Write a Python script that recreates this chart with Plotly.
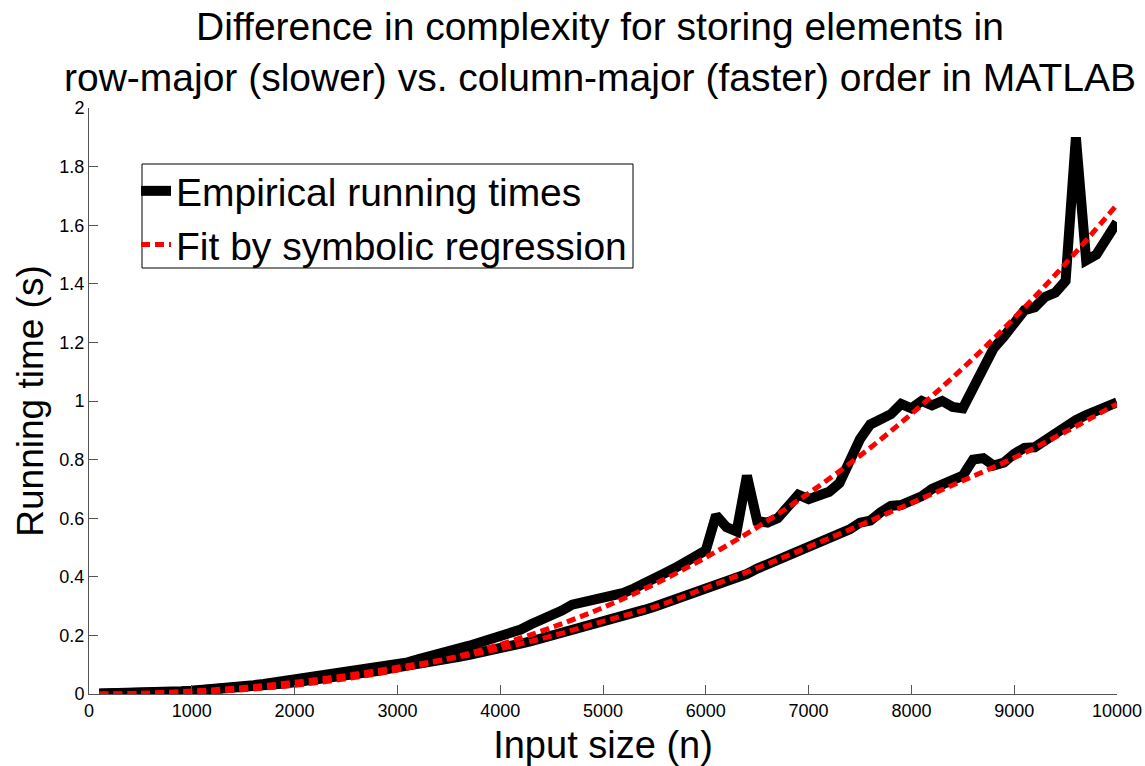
import plotly.graph_objects as go

# ---------------- data ----------------
n_emp = list(range(100, 10001, 100))

row_major = [
    0.002, 0.002, 0.003, 0.003, 0.004, 0.005, 0.006, 0.007, 0.009, 0.011,
    0.013, 0.016, 0.019, 0.023, 0.027, 0.030, 0.034, 0.039, 0.044, 0.048,
    0.052, 0.056, 0.060, 0.068, 0.072, 0.077, 0.085, 0.092, 0.095, 0.100,
    0.108, 0.118, 0.126, 0.133, 0.141, 0.152, 0.165, 0.176, 0.186, 0.195,
    0.205, 0.220, 0.238, 0.252, 0.262, 0.285, 0.305, 0.312, 0.318, 0.328,
    0.335, 0.345, 0.360, 0.380, 0.398, 0.412, 0.430, 0.450, 0.470, 0.490,
    0.610, 0.570, 0.555, 0.745, 0.590, 0.585, 0.600, 0.635, 0.680, 0.665,
    0.680, 0.690, 0.720, 0.790, 0.870, 0.920, 0.940, 0.955, 0.990, 0.975,
    1.000, 0.985, 1.000, 0.980, 0.975, 1.040, 1.110, 1.180, 1.220, 1.265,
    1.310, 1.320, 1.355, 1.370, 1.410, 1.900, 1.480, 1.500, 1.560, 1.610,
]

col_major = [
    0.001, 0.001, 0.001, 0.002, 0.003, 0.004, 0.005, 0.006, 0.008, 0.010,
    0.012, 0.014, 0.017, 0.019, 0.022, 0.026, 0.029, 0.032, 0.036, 0.040,
    0.044, 0.048, 0.052, 0.058, 0.063, 0.067, 0.073, 0.078, 0.085, 0.090,
    0.096, 0.101, 0.107, 0.114, 0.120, 0.127, 0.134, 0.140, 0.148, 0.155,
    0.164, 0.172, 0.180, 0.189, 0.198, 0.207, 0.218, 0.228, 0.236, 0.246,
    0.256, 0.266, 0.276, 0.287, 0.298, 0.310, 0.322, 0.334, 0.348, 0.362,
    0.372, 0.385, 0.398, 0.410, 0.428, 0.442, 0.455, 0.470, 0.486, 0.500,
    0.515, 0.530, 0.545, 0.562, 0.585, 0.592, 0.620, 0.642, 0.645, 0.660,
    0.675, 0.700, 0.712, 0.730, 0.745, 0.800, 0.805, 0.780, 0.790, 0.820,
    0.840, 0.842, 0.865, 0.895, 0.910, 0.935, 0.952, 0.968, 0.980, 0.995,
]

n_fit = [100, 500, 1000, 1500, 2000, 2500, 3000, 3500, 4000, 4500, 5000,
         5500, 6000, 6500, 7000, 7500, 8000, 8500, 9000, 9500, 10000]
fit_row = [0.0000, 0.0009, 0.0053, 0.0146, 0.030, 0.052, 0.082, 0.121, 0.169,
           0.227, 0.295, 0.375, 0.466, 0.569, 0.685, 0.813, 0.956, 1.112,
           1.283, 1.469, 1.670]
fit_col = [0.0001, 0.0025, 0.010, 0.022, 0.040, 0.063, 0.091, 0.120, 0.155,
           0.198, 0.248, 0.297, 0.362, 0.430, 0.502, 0.576, 0.652, 0.728,
           0.806, 0.895, 0.990]

x_ticks = [0, 1000, 2000, 3000, 4000, 5000, 6000, 7000, 8000, 9000, 10000]
x_tick_text = ["0", "1000", "2000", "3000", "4000", "5000", "6000", "7000",
               "8000", "9000", "10000"]
y_ticks = [0, 0.2, 0.4, 0.6, 0.8, 1.0, 1.2, 1.4, 1.6, 1.8, 2.0]
y_tick_text = ["0", "0.2", "0.4", "0.6", "0.8", "1", "1.2", "1.4", "1.6", "1.8", "2"]

title_text = ("Difference in complexity for storing elements in<br>"
              "row-major (slower) vs. column-major (faster) order in MATLAB")

FONT = "Liberation Sans, Arial, Helvetica, sans-serif"

W, H = 1145, 766
ML, MR, MT, MB = 89, 28, 108, 72
PW, PH = W - ML - MR, H - MT - MB


def px_x(fx):  # figure pixel -> paper x
    return (fx - ML) / PW


def px_y(fy):  # figure pixel -> paper y
    return (H - MB - fy) / PH


# ---------------- figure ----------------
fig = go.Figure()
fig.add_trace(go.Scatter(x=n_emp, y=row_major, mode="lines",
                         name="Empirical running times",
                         line=dict(color="black", width=10),
                         legendgroup="emp"))
fig.add_trace(go.Scatter(x=n_emp, y=col_major, mode="lines",
                         name="Empirical running times", showlegend=False,
                         line=dict(color="black", width=10),
                         legendgroup="emp"))
fig.add_trace(go.Scatter(x=n_fit, y=fit_row, mode="lines",
                         name="Fit by symbolic regression",
                         line=dict(color="#ff0000", width=5, dash="9px,5px",
                                   shape="spline"),
                         legendgroup="fit"))
fig.add_trace(go.Scatter(x=n_fit, y=fit_col, mode="lines",
                         name="Fit by symbolic regression", showlegend=False,
                         line=dict(color="#ff0000", width=5, dash="9px,5px",
                                   shape="spline"),
                         legendgroup="fit"))

axis_common = dict(
    showgrid=False, zeroline=False, showline=True, linecolor="#555555",
    linewidth=1, ticks="inside", ticklen=9, tickwidth=1, tickcolor="#555555",
    mirror=False, automargin=False, ticklabeloverflow="allow",
    tickfont=dict(family=FONT, size=18, color="black"),
)

# legend frame
fig.add_shape(type="rect", xref="paper", yref="paper",
              x0=px_x(142), x1=px_x(633), y0=px_y(164), y1=px_y(268),
              line=dict(color="black", width=1), fillcolor="white",
              layer="above")

fig.add_annotation(text=title_text, xref="paper", yref="paper",
                   x=px_x(600), y=px_y(52), xanchor="center", yanchor="middle",
                   showarrow=False,
                   font=dict(family=FONT, size=39, color="black"))

fig.update_layout(
    width=W, height=H,
    paper_bgcolor="white", plot_bgcolor="white",
    margin=dict(l=ML, r=MR, t=MT, b=MB),
    font=dict(family=FONT, color="black"),
    xaxis=dict(range=[0, 10000], tickvals=x_ticks, ticktext=x_tick_text,
               title=dict(text="Input size (n)",
                          font=dict(family=FONT, size=38, color="black"),
                          standoff=12),
               **axis_common),
    yaxis=dict(range=[0, 2], tickvals=y_ticks, ticktext=y_tick_text,
               title=dict(text="Running time (s)",
                          font=dict(family=FONT, size=37, color="black"),
                          standoff=4),
               **axis_common),
    legend=dict(x=px_x(136), y=px_y(159),
                xanchor="left", yanchor="top",
                bgcolor="rgba(0,0,0,0)", borderwidth=0,
                font=dict(family=FONT, size=39, color="black"),
                itemwidth=30, tracegroupgap=0),
    showlegend=True,
)

# remove the browser's default 8px body margin so the figure fills the window
fig.write_html("out.html", config={"displayModeBar": False},
               post_script="document.body.style.margin='0px';")
